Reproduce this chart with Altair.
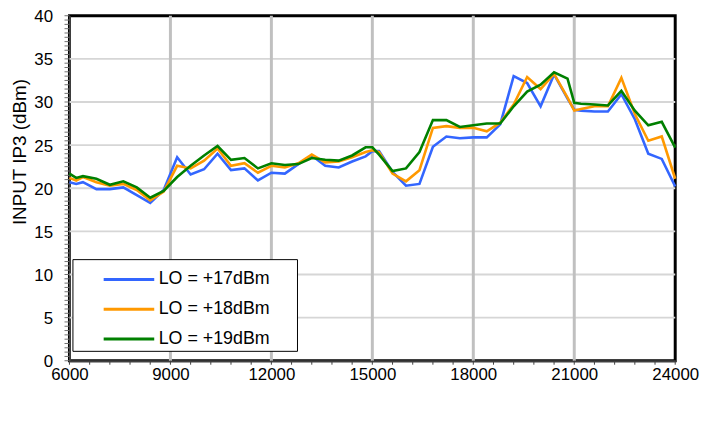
import altair as alt
import pandas as pd

freqs = [6000, 6200, 6400, 6800, 7200, 7600, 8000, 8400, 8800, 9200, 9600, 10000,
         10400, 10800, 11200, 11600, 12000, 12400, 12800, 13200, 13600, 14000, 14400,
         14800, 15000, 15200, 15600, 16000, 16400, 16800, 17200, 17600, 18000, 18400,
         18800, 19200, 19600, 20000, 20400, 20800, 21000, 21200, 21600, 22000, 22400,
         22800, 23200, 23600, 24000]

lo17 = [20.7, 20.5, 20.7, 19.9, 19.9, 20.1, 19.2, 18.3, 19.8, 23.6, 21.6, 22.2,
        24.0, 22.1, 22.3, 20.9, 21.8, 21.7, 22.8, 23.8, 22.6, 22.4, 23.1,
        23.7, 24.3, 24.3, 21.9, 20.3, 20.5, 24.8, 26.0, 25.8, 25.9, 25.9,
        27.4, 33.0, 32.2, 29.5, 33.2, 30.4, 29.1, 29.0, 28.9, 28.9, 30.9,
        28.0, 24.0, 23.4, 20.2]

lo18 = [21.2, 20.9, 21.3, 20.7, 20.3, 20.5, 19.8, 18.6, 19.6, 22.6, 22.3, 23.2,
        24.6, 22.6, 22.9, 21.8, 22.6, 22.4, 22.9, 23.9, 23.0, 23.1, 23.6,
        24.2, 24.4, 24.2, 21.7, 20.8, 22.1, 27.0, 27.2, 27.0, 27.0, 26.6,
        27.6, 29.7, 32.9, 31.5, 33.25, 30.5, 29.0, 29.2, 29.5, 29.5, 32.8,
        28.6, 25.5, 26.0, 21.1]

lo19 = [21.7, 21.2, 21.4, 21.1, 20.4, 20.8, 20.1, 18.9, 19.7, 21.3, 22.6, 23.8,
        24.9, 23.3, 23.5, 22.3, 22.9, 22.7, 22.8, 23.5, 23.3, 23.2, 23.8,
        24.75, 24.75, 23.9, 22.0, 22.3, 24.2, 27.9, 27.9, 27.1, 27.3, 27.5,
        27.5, 29.5, 31.2, 32.0, 33.45, 32.7, 29.9, 29.8, 29.7, 29.6, 31.3,
        29.0, 27.3, 27.7, 24.7]

series_names = ["LO = +17dBm", "LO = +18dBm", "LO = +19dBm"]
series_colors = ["#3366FF", "#FF9900", "#008000"]

x_labels = [6000, 9000, 12000, 15000, 18000, 21000, 24000]
y_labels = [0, 5, 10, 15, 20, 25, 30, 35, 40]
grid_x = [9000, 12000, 15000, 18000, 21000]
grid_y = [5, 10, 15, 20, 25, 30, 35]
minor_x = list(range(6000, 24001, 600))
minor_y = [i * 0.5 for i in range(0, 81)]

rows = []
for name, vals in zip(series_names, [lo17, lo18, lo19]):
    for f, v in zip(freqs, vals):
        rows.append({"freq": f, "value": v, "series": name})
df = pd.DataFrame(rows)

xs = alt.Scale(domain=[6000, 24000], nice=False, zero=False)
ys = alt.Scale(domain=[0, 40], nice=False, zero=False)
FONT = "Liberation Sans"

x_axis = alt.Axis(values=x_labels, format="d", grid=False, ticks=False,
                  tickSize=0, labelPadding=6, labelFontSize=17,
                  labelFont=FONT, labelColor="black", labelFlush=False,
                  labelOverlap=False, domainColor="#404040", domainWidth=2)
y_axis = alt.Axis(values=y_labels, grid=False, ticks=False, tickSize=0,
                  labelPadding=17, labelFontSize=17, labelFont=FONT,
                  labelColor="black", labelFlush=False, labelOverlap=False,
                  labelOffset=1,
                  domainColor="#404040", domainWidth=2,
                  titleFont=FONT, titleFontSize=19, titleFontWeight="normal",
                  titleColor="black", titleAngle=270, titleAlign="center",
                  titleBaseline="alphabetic", titleX=-44.5, titleY=137)

gy = alt.Chart(pd.DataFrame({"value": grid_y})).mark_rule(color="#d6d6d6", strokeWidth=2).encode(
    y=alt.Y("value:Q", scale=ys, title="INPUT IP3 (dBm)", axis=y_axis))
gx = alt.Chart(pd.DataFrame({"freq": grid_x})).mark_rule(color="#c0c0c0", strokeWidth=3).encode(
    x=alt.X("freq:Q", scale=xs, title=None, axis=x_axis))

legend_box = alt.Chart(pd.DataFrame({"a": [0]})).mark_rect(
    fill="white", stroke="black", strokeWidth=1).encode(
    x=alt.value(3.5), x2=alt.value(230), y=alt.value(246), y2=alt.value(338.5))

tx = alt.Chart(pd.DataFrame({"freq": minor_x})).mark_rule(color="#404040", strokeWidth=1).encode(
    x=alt.X("freq:Q", scale=xs, title=None, axis=x_axis), y=alt.value(348), y2=alt.value(352))
ty = alt.Chart(pd.DataFrame({"value": minor_y})).mark_rule(color="#707070", strokeWidth=1).encode(
    y=alt.Y("value:Q", scale=ys, title="INPUT IP3 (dBm)", axis=y_axis), x=alt.value(-5), x2=alt.value(0))

lines = alt.Chart(df).mark_line(strokeWidth=2.6).encode(
    x=alt.X("freq:Q", scale=xs, title=None, axis=x_axis),
    y=alt.Y("value:Q", scale=ys, title="INPUT IP3 (dBm)", axis=y_axis),
    color=alt.Color("series:N", title=None,
                    scale=alt.Scale(domain=series_names, range=series_colors),
                    legend=alt.Legend(orient="none", legendX=33, legendY=257,
                                      symbolType="stroke", symbolSize=2601,
                                      symbolStrokeWidth=3, labelFontSize=18,
                                      labelFont=FONT, labelColor="black",
                                      labelOffset=3, clipHeight=18,
                                      rowPadding=12, padding=0)),
    order=alt.Order("freq:Q"),
)

chart = alt.layer(gy, gx, legend_box, tx, ty, lines).properties(
    width=611, height=348,
    padding={"left": 62, "top": 6, "right": 25, "bottom": 63},
    autosize=alt.AutoSizeParams(type="none"),
).configure_view(stroke="black", strokeWidth=3)

chart.save("out.html", embed_options={"renderer": "svg", "actions": False})
